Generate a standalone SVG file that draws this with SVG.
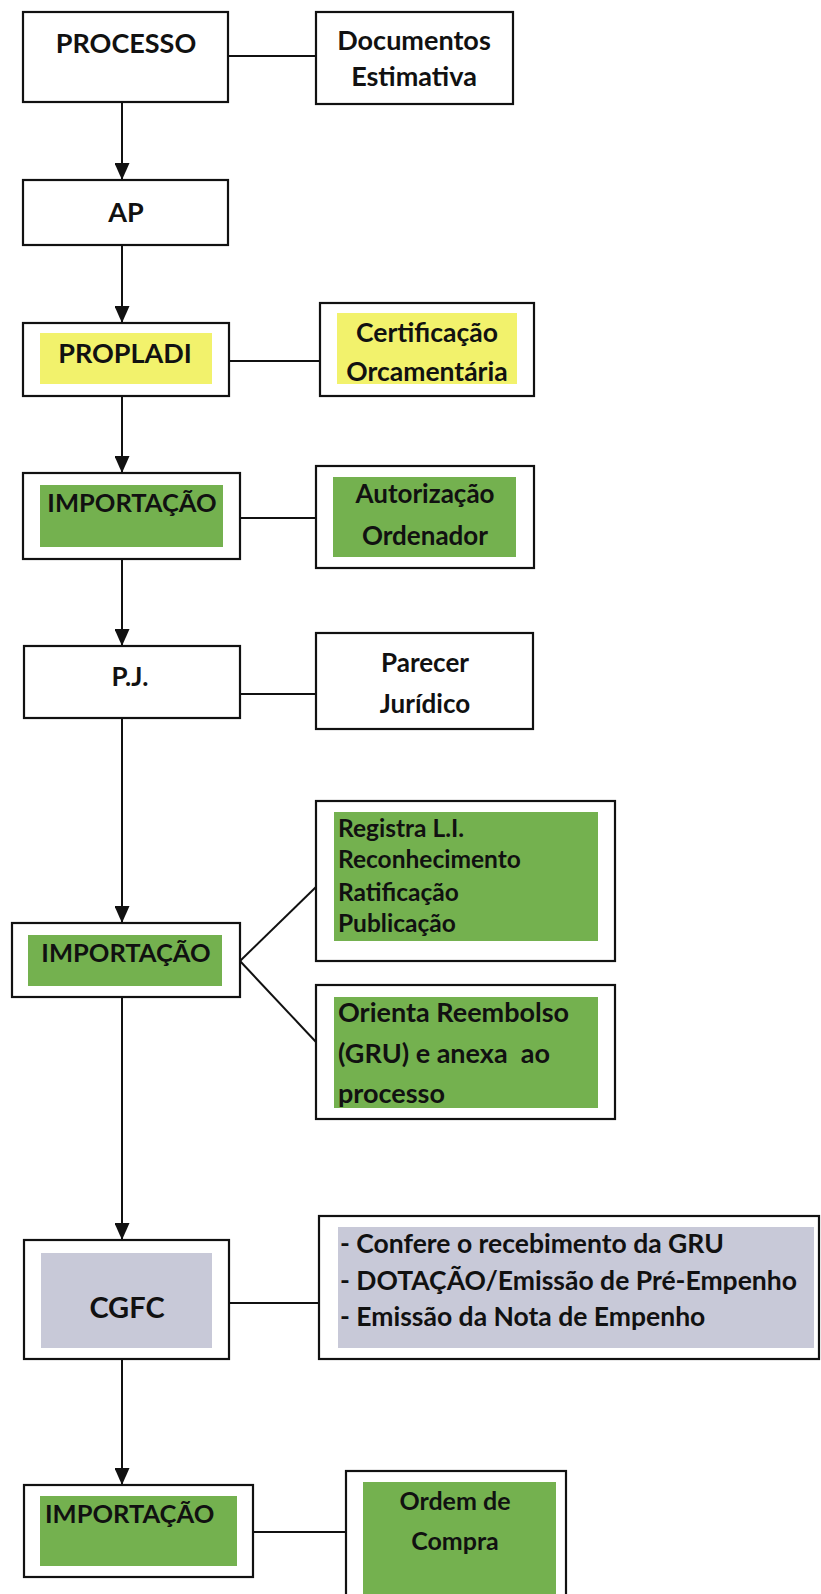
<svg xmlns="http://www.w3.org/2000/svg" width="821" height="1594" viewBox="0 0 821 1594">
<defs>
<marker id="arr" markerUnits="userSpaceOnUse" markerWidth="17" markerHeight="15" refX="17" refY="7.5" orient="auto" viewBox="0 0 17 15">
<path d="M0,0 L17,7.5 L0,15 Z" fill="#111"/>
</marker>
<style>
.box{fill:#fff;stroke:#111;stroke-width:2.2}
.y{fill:#f2f26c}
.g{fill:#74b14f}
.gr{fill:#c8c9d8}
.c{fill:none;stroke:#111;stroke-width:2}
text{font-family:Lato,"Open Sans","Liberation Sans",sans-serif;font-weight:700;fill:#111}
.m{text-anchor:middle}
</style>
</defs>
<rect width="821" height="1594" fill="#fff"/>
<g id="connectors">
<line class="c" x1="122" y1="102" x2="122" y2="180" marker-end="url(#arr)"/>
<line class="c" x1="122" y1="245" x2="122" y2="323" marker-end="url(#arr)"/>
<line class="c" x1="122" y1="396" x2="122" y2="473" marker-end="url(#arr)"/>
<line class="c" x1="122" y1="559" x2="122" y2="646" marker-end="url(#arr)"/>
<line class="c" x1="122" y1="718" x2="122" y2="923" marker-end="url(#arr)"/>
<line class="c" x1="122" y1="997" x2="122" y2="1240" marker-end="url(#arr)"/>
<line class="c" x1="122" y1="1359" x2="122" y2="1485" marker-end="url(#arr)"/>
<line class="c" x1="228" y1="56" x2="316" y2="56"/>
<line class="c" x1="229" y1="361" x2="320" y2="361"/>
<line class="c" x1="240" y1="518" x2="316" y2="518"/>
<line class="c" x1="240" y1="694" x2="316" y2="694"/>
<line class="c" x1="240" y1="961" x2="316" y2="887"/>
<line class="c" x1="240" y1="961" x2="316" y2="1042"/>
<line class="c" x1="229" y1="1303" x2="319" y2="1303"/>
<line class="c" x1="253" y1="1532" x2="346" y2="1532"/>
</g>
<g id="processo">
<rect class="box" x="23" y="12" width="205" height="90"/>
<text class="m" x="126" y="53" font-size="27">PROCESSO</text>
</g>
<g id="documentos">
<rect class="box" x="316" y="12" width="197" height="92"/>
<text class="m" x="414" y="50" font-size="27">Documentos</text>
<text class="m" x="414" y="86" font-size="27">Estimativa</text>
</g>
<g id="ap">
<rect class="box" x="23" y="180" width="205" height="65"/>
<text class="m" x="126" y="222" font-size="27">AP</text>
</g>
<g id="propladi">
<rect class="box" x="23" y="323" width="206" height="73"/>
<rect class="y" x="40" y="333" width="172" height="51"/>
<text class="m" x="125" y="363" font-size="27">PROPLADI</text>
</g>
<g id="certificacao">
<rect class="box" x="320" y="303" width="214" height="93"/>
<rect class="y" x="337" y="313" width="180" height="71"/>
<text class="m" x="427" y="342" font-size="26.5">Certificação</text>
<text class="m" x="427" y="381" font-size="26.5">Orcamentária</text>
</g>
<g id="importacao1">
<rect class="box" x="23" y="473" width="217" height="86"/>
<rect class="g" x="40" y="485" width="183" height="62"/>
<text class="m" x="132" y="512" font-size="25.5">IMPORTAÇÃO</text>
</g>
<g id="autorizacao">
<rect class="box" x="316" y="466" width="218" height="102"/>
<rect class="g" x="333" y="477" width="183" height="80"/>
<text class="m" x="425" y="503" font-size="26">Autorização</text>
<text class="m" x="425" y="545" font-size="26">Ordenador</text>
</g>
<g id="pj">
<rect class="box" x="24" y="646" width="216" height="72"/>
<text class="m" x="130" y="686" font-size="26">P.J.</text>
</g>
<g id="parecer">
<rect class="box" x="316" y="633" width="217" height="96"/>
<text class="m" x="425" y="672" font-size="26">Parecer</text>
<text class="m" x="425" y="713" font-size="26">Jurídico</text>
</g>
<g id="importacao2">
<rect class="box" x="12" y="923" width="228" height="74"/>
<rect class="g" x="28" y="935" width="194" height="51"/>
<text class="m" x="126" y="962" font-size="25.5">IMPORTAÇÃO</text>
</g>
<g id="registra">
<rect class="box" x="316" y="801" width="299" height="160"/>
<rect class="g" x="334" y="812" width="264" height="129"/>
<text x="338" y="837" font-size="24.5">Registra L.I.</text>
<text x="338" y="868" font-size="24.5">Reconhecimento</text>
<text x="338" y="901" font-size="24.5">Ratificação</text>
<text x="338" y="932" font-size="24.5">Publicação</text>
</g>
<g id="orienta">
<rect class="box" x="316" y="985" width="299" height="134"/>
<rect class="g" x="334" y="997" width="264" height="111"/>
<text x="338" y="1022" font-size="27">Orienta Reembolso</text>
<text x="338" y="1063" font-size="27" xml:space="preserve">(GRU) e anexa  ao</text>
<text x="338" y="1103" font-size="27">processo</text>
</g>
<g id="cgfc">
<rect class="box" x="24" y="1240" width="205" height="119"/>
<rect class="gr" x="41" y="1253" width="171" height="95"/>
<text class="m" x="127" y="1318" font-size="29">CGFC</text>
</g>
<g id="cgfc-desc">
<rect class="box" x="319" y="1216" width="500" height="143"/>
<rect class="gr" x="338" y="1227" width="476" height="121"/>
<text x="340" y="1253" font-size="26.5">- Confere o recebimento da GRU</text>
<text x="340" y="1290" font-size="26.5">- DOTAÇÃO/Emissão de Pré-Empenho</text>
<text x="340" y="1326" font-size="26.5">- Emissão da Nota de Empenho</text>
</g>
<g id="importacao3">
<rect class="box" x="24" y="1485" width="229" height="92"/>
<rect class="g" x="40" y="1496" width="197" height="70"/>
<text x="45" y="1523" font-size="25.5">IMPORTAÇÃO</text>
</g>
<g id="ordem">
<rect class="box" x="346" y="1471" width="220" height="130"/>
<rect class="g" x="363" y="1482" width="193" height="112"/>
<text class="m" x="455" y="1510" font-size="25">Ordem de</text>
<text class="m" x="455" y="1550" font-size="25">Compra</text>
</g>
</svg>
